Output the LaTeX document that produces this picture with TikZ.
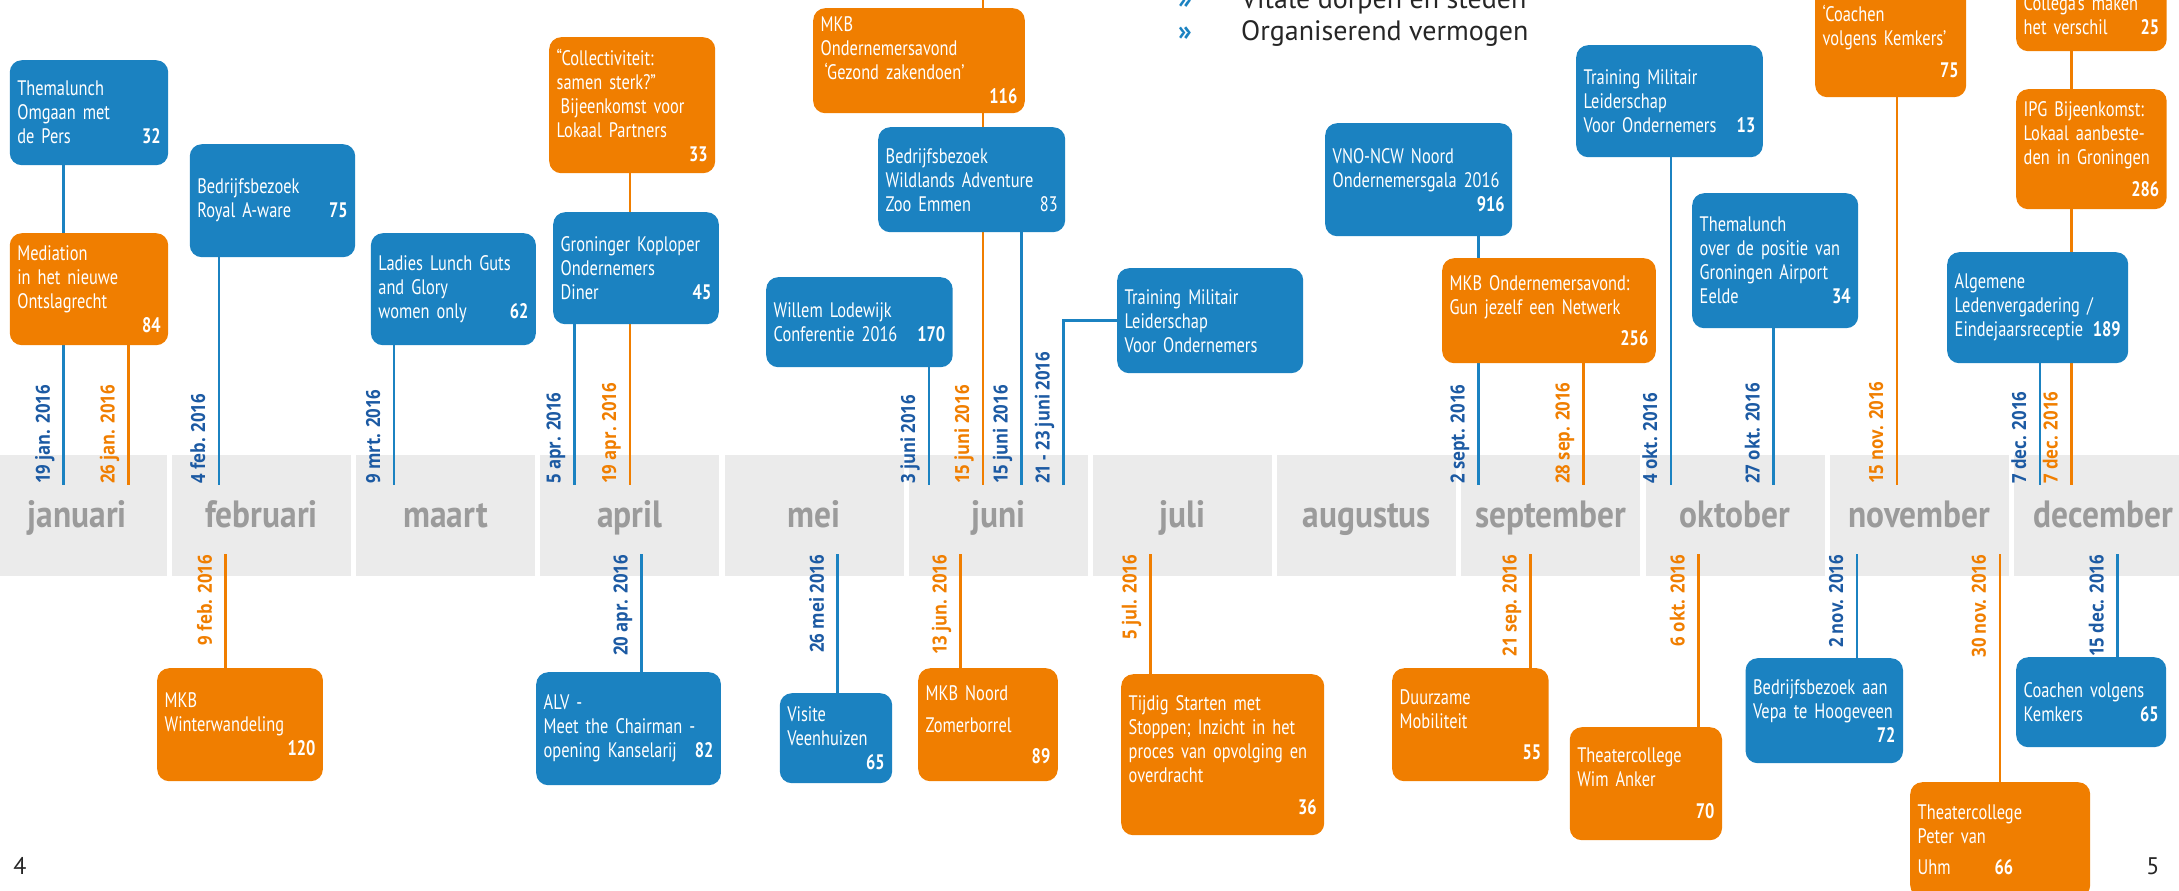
\documentclass[tikz,border=0pt]{standalone}
\usepackage{fontspec}
\setmainfont{PT Sans}
\newfontfamily\boxfont{PT Sans}[FakeStretch=0.78]
\newfontfamily\monthfont{PT Sans}[FakeStretch=0.88]
\newfontfamily\datefont{Open Sans}[FakeStretch=0.86]

\definecolor{evblue}{RGB}{27,130,193}
\definecolor{evorange}{RGB}{240,126,0}
\definecolor{datblue}{RGB}{28,90,163}
\definecolor{bandgray}{RGB}{235,235,235}
\definecolor{monthgray}{RGB}{155,155,155}

\pgfdeclarelayer{band}
\pgfdeclarelayer{lines}
\pgfsetlayers{band,lines,main}

\tikzset{
  evbox/.style={anchor=north west, rounded corners=12pt, inner xsep=7.5pt, inner ysep=0pt,
    text=white, align=left, font=\boxfont\fontsize{21}{24}\selectfont},
  bluebox/.style={evbox, fill=evblue},
  orangebox/.style={evbox, fill=evorange},
  monthbox/.style={anchor=north west, fill=bandgray, minimum width=179pt, minimum height=121pt,
    inner sep=0pt, text=monthgray, text height=30pt, text depth=6pt,
    font=\monthfont\bfseries\fontsize{38}{38}\selectfont},
  blueline/.style={evblue, line width=2.8pt},
  orangeline/.style={evorange, line width=2.8pt},
  datum/.style={rotate=90, inner sep=0pt, font=\datefont\bfseries\fontsize{19.5}{19.5}\selectfont},
  updatum/.style={datum, anchor=base west},
  downdatum/.style={datum, anchor=base east},
  toptext/.style={anchor=base west, inner sep=0pt, text=black!85, font=\fontsize{28}{28}\selectfont},
  bullet/.style={anchor=base, inner sep=0pt, text=evblue, font=\bfseries\fontsize{28}{28}\selectfont},
  pagenum/.style={anchor=base, inner sep=0pt, text=black!85, font=\fontsize{24}{24}\selectfont}
}

\begin{document}
\begin{tikzpicture}[x=1pt, y=-1pt]
\useasboundingbox (0,0) rectangle (2179,891);

% Months
\begin{pgfonlayer}{band}
\node[monthbox] (jan) at (-12.4,455) {januari};
\node[monthbox] (feb) at (171.8,455) {februari};
\node[monthbox] (mrt) at (356,455) {maart};
\node[monthbox] (apr) at (540.2,455) {april};
\node[monthbox] (mei) at (724.4,455) {mei};
\node[monthbox] (jun) at (908.6,455) {juni};
\node[monthbox] (jul) at (1092.8,455) {juli};
\node[monthbox] (aug) at (1277,455) {augustus};
\node[monthbox] (sep) at (1461.2,455) {september};
\node[monthbox] (okt) at (1645.4,455) {oktober};
\node[monthbox] (nov) at (1829.6,455) {november};
\node[monthbox] (dec) at (2013.8,455) {december};
\end{pgfonlayer}

% Events above the months
\node[bluebox, text width=143.4pt, minimum height=105pt] (tlpers) at (9.6,60) {Themalunch\\Omgaan met\\de Pers\hfill\textbf{32}};
\node[orangebox, text width=143.4pt, minimum height=112pt] (mediation) at (9.6,233) {Mediation\\in het nieuwe\\Ontslagrecht\\\hfill\textbf{84}};
\node[bluebox, text width=150.4pt, minimum height=113pt] (royal) at (189.6,144) {Bedrijfsbezoek\\Royal A-ware\hfill\textbf{75}};
\node[bluebox, text width=150pt, minimum height=112pt] (ladies) at (370.7,233) {Ladies Lunch Guts\\and Glory\\women only\hfill\textbf{62}};
\node[orangebox, text width=151pt, minimum height=136pt] (collect) at (549,37) {“Collectiviteit:\\samen sterk?”\\\hspace*{4pt}Bijeenkomst voor\\Lokaal Partners\\\hfill\textbf{33}};
\node[bluebox, text width=150.6pt, minimum height=112pt] (koploper) at (553,212) {Groninger Koploper\\Ondernemers\\Diner\hfill\textbf{45}};
\node[orangebox, text width=196.6pt, minimum height=105pt] (mkbgezond) at (813,8) {MKB\\Ondernemersavond\\\hspace*{4pt}‘Gezond zakendoen’\\\hfill\textbf{116}};
\node[bluebox, text width=172pt, minimum height=105pt] (wildlands) at (878,127) {Bedrijfsbezoek\\Wildlands Adventure\\Zoo Emmen\hfill 83};
\node[bluebox, text width=171.5pt, minimum height=90pt] (willem) at (766,277) {Willem Lodewijk\\Conferentie 2016\hfill\textbf{170}};
\node[bluebox, text width=171pt, minimum height=105pt] (militair) at (1117,268) {Training Militair\\Leiderschap\\Voor Ondernemers};
\node[bluebox, text width=172pt, minimum height=113pt] (vno) at (1325,123) {VNO-NCW Noord\\Ondernemersgala 2016\\\hfill\textbf{916}};
\node[orangebox, text width=198.6pt, minimum height=105pt] (mkbgun) at (1442,258) {MKB Ondernemersavond:\\Gun jezelf een Netwerk\\[7pt]\hfill\textbf{256}};
\node[bluebox, text width=171.6pt, minimum height=112pt] (training) at (1576,45) {Training Militair\\Leiderschap\\Voor Ondernemers\hfill\textbf{13}};
\node[bluebox, text width=151pt, minimum height=135pt] (positie) at (1692,193) {Themalunch\\over de positie van\\Groningen Airport\\Eelde\hfill\textbf{34}};
\node[orangebox, text width=136pt, minimum height=112pt] (coachen) at (1815,-15) {‘Coachen\\volgens Kemkers’\\[8pt]\hfill\textbf{75}};
\node[orangebox, text width=135.5pt, minimum height=72pt] (collega) at (2016,-21) {Collega’s maken\\het verschil\hfill\textbf{25}};
\node[orangebox, text width=135.5pt, minimum height=120pt] (ipg) at (2016,89) {IPG Bijeenkomst:\\Lokaal aanbeste-\\den in Groningen\\[8pt]\hfill\textbf{286}};
\node[bluebox, text width=166pt, minimum height=111pt] (algemene) at (1947,252) {Algemene\\Ledenvergadering /\\Eindejaarsreceptie\hfill\textbf{189}};

% Events below the months
\node[orangebox, text width=150.7pt, minimum height=113pt] (winter) at (157,668) {MKB\\Winterwandeling\\\hfill\textbf{120}};
\node[bluebox, text width=169.7pt, minimum height=113pt] (alv) at (536,672) {ALV -\\Meet the Chairman -\\opening Kanselarij\hfill\textbf{82}};
\node[bluebox, text width=97.4pt, minimum height=90pt] (visite) at (779.6,693) {Visite\\Veenhuizen\\\hfill\textbf{65}};
\node[orangebox, text width=124.6pt, minimum height=113pt] (noord) at (918,668) {MKB Noord\\[8pt]Zomerborrel\\[7pt]\hfill\textbf{89}};
\node[orangebox, text width=188pt, minimum height=161pt] (tijdig) at (1121,674) {Tijdig Starten met\\Stoppen; Inzicht in het\\proces van opvolging en\\overdracht\\[8pt]\hfill\textbf{36}};
\node[orangebox, text width=141.4pt, minimum height=113pt] (duurzaam) at (1392,668) {Duurzame\\Mobiliteit\\[7pt]\hfill\textbf{55}};
\node[orangebox, text width=137.2pt, minimum height=113pt] (wim) at (1569.6,727) {Theatercollege\\Wim Anker\\[8pt]\hfill\textbf{70}};
\node[bluebox, text width=142.4pt, minimum height=105pt] (vepa) at (1745.4,658) {Bedrijfsbezoek aan\\Vepa te Hoogeveen\\\hfill\textbf{72}};
\node[orangebox, text width=165pt, minimum height=115pt] (uhm) at (1910,782) {Theatercollege\\Peter van\\[7pt]Uhm\hspace{44pt}\textbf{66}};
\node[bluebox, text width=135pt, minimum height=90pt] (kemkers) at (2016,657) {Coachen volgens\\Kemkers\hfill\textbf{65}};

% Connectors and dates
\begin{pgfonlayer}{lines}
\coordinate (d19jan) at (63.8,485);
\coordinate (d26jan) at (128.6,485);
\coordinate (d4feb) at (219,485);
\coordinate (d9mrt) at (394,485);
\coordinate (d5apr) at (574.6,485);
\coordinate (d19apr) at (630,485);
\coordinate (d3jun) at (929,485);
\coordinate (top15) at (983,-10);
\coordinate (d15jun) at (983,485);
\coordinate (d15junb) at (1021.7,485);
\coordinate (d21jun) at (1063.6,485);
\coordinate (d2sep) at (1478.6,485);
\coordinate (d28sep) at (1583.7,485);
\coordinate (d4okt) at (1671,485);
\coordinate (d27okt) at (1773.7,485);
\coordinate (d15nov) at (1897,485);
\coordinate (d7dec) at (2040,485);
\coordinate (d7deco) at (2071.5,485);

\draw[blueline] (tlpers.south -| d19jan) -- (d19jan);
\draw[orangeline] (mediation.south -| d26jan) -- (d26jan);
\draw[blueline] (royal.south -| d4feb) -- (d4feb);
\draw[blueline] (ladies.south -| d9mrt) -- (d9mrt);
\draw[blueline] (koploper.south -| d5apr) -- (d5apr);
\draw[orangeline] (collect.south -| d19apr) -- (d19apr);
\draw[blueline] (willem.south -| d3jun) -- (d3jun);
\draw[orangeline] (top15) -- (d15jun);
\draw[blueline] (wildlands.south -| d15junb) -- (d15junb);
\draw[blueline] (d21jun) |- (militair.west);
\draw[blueline] (vno.south -| d2sep) -- (d2sep);
\draw[orangeline] (mkbgun.south -| d28sep) -- (d28sep);
\draw[blueline] (training.south -| d4okt) -- (d4okt);
\draw[blueline] (positie.south -| d27okt) -- (d27okt);
\draw[orangeline] (coachen.south -| d15nov) -- (d15nov);
\draw[blueline] (algemene.south -| d7dec) -- (d7dec);
\draw[orangeline] (collega.south -| d7deco) -- (d7deco);

\node[updatum, text=datblue] (l19jan) at (49.8,484) {19 jan. 2016};
\node[updatum, text=evorange] (l26jan) at (114.6,484) {26 jan. 2016};
\node[updatum, text=datblue] (l4feb) at (205,484) {4 feb. 2016};
\node[updatum, text=datblue] (l9mrt) at (380,484) {9 mrt. 2016};
\node[updatum, text=datblue] (l5apr) at (560.6,484) {5 apr. 2016};
\node[updatum, text=evorange] (l19apr) at (616,484) {19 apr. 2016};
\node[updatum, text=datblue] (l3jun) at (915,484) {3 juni 2016};
\node[updatum, text=evorange] (l15jun) at (969,484) {15 juni 2016};
\node[updatum, text=datblue] (l15junb) at (1007.7,484) {15 juni 2016};
\node[updatum, text=datblue] (l21jun) at (1049.6,484) {21 - 23 juni 2016};
\node[updatum, text=datblue] (l2sep) at (1464.6,484) {2 sept. 2016};
\node[updatum, text=evorange] (l28sep) at (1569.7,484) {28 sep. 2016};
\node[updatum, text=datblue] (l4okt) at (1657,484) {4 okt. 2016};
\node[updatum, text=datblue] (l27okt) at (1759.7,484) {27 okt. 2016};
\node[updatum, text=evorange] (l15nov) at (1883,484) {15 nov. 2016};
\node[updatum, text=datblue] (l7dec) at (2026,484) {7 dec. 2016};
\node[updatum, text=evorange] (l7deco) at (2057.5,484) {7 dec. 2016};

\coordinate (e9feb) at (225.8,554);
\coordinate (e20apr) at (641.6,554);
\coordinate (e26mei) at (837.8,554);
\coordinate (e13jun) at (960.7,554);
\coordinate (e5jul) at (1150.7,554);
\coordinate (e21sep) at (1530.5,554);
\coordinate (e6okt) at (1698.7,554);
\coordinate (e2nov) at (1857,554);
\coordinate (e30nov) at (1999.9,554);
\coordinate (e15dec) at (2117.7,554);

\draw[orangeline] (e9feb) -- (e9feb |- winter.north);
\draw[blueline] (e20apr) -- (e20apr |- alv.north);
\draw[blueline] (e26mei) -- (e26mei |- visite.north);
\draw[orangeline] (e13jun) -- (e13jun |- noord.north);
\draw[orangeline] (e5jul) -- (e5jul |- tijdig.north);
\draw[orangeline] (e21sep) -- (e21sep |- duurzaam.north);
\draw[orangeline] (e6okt) -- (e6okt |- wim.north);
\draw[blueline] (e2nov) -- (e2nov |- vepa.north);
\draw[orangeline] (e30nov) -- (e30nov |- uhm.north);
\draw[blueline] (e15dec) -- (e15dec |- kemkers.north);

\node[downdatum, text=evorange] (l9feb) at (211.8,555) {9 feb. 2016};
\node[downdatum, text=datblue] (l20apr) at (627.6,555) {20 apr. 2016};
\node[downdatum, text=datblue] (l26mei) at (823.8,555) {26 mei 2016};
\node[downdatum, text=evorange] (l13jun) at (946.7,555) {13 jun. 2016};
\node[downdatum, text=evorange] (l5jul) at (1136.7,555) {5 jul. 2016};
\node[downdatum, text=evorange] (l21sep) at (1516.5,555) {21 sep. 2016};
\node[downdatum, text=evorange] (l6okt) at (1684.7,555) {6 okt. 2016};
\node[downdatum, text=datblue] (l2nov) at (1843,555) {2 nov. 2016};
\node[downdatum, text=evorange] (l30nov) at (1985.9,555) {30 nov. 2016};
\node[downdatum, text=datblue] (l15dec) at (2103.7,555) {15 dec. 2016};
\end{pgfonlayer}

% Heading list and page numbers
\node[bullet] (bul1) at (1185,9) {»};
\node[toptext] (vitale) at (1241,9) {Vitale dorpen en steden};
\node[bullet] (bul2) at (1185,41) {»};
\node[toptext] (organ) at (1241,41) {Organiserend vermogen};
\node[pagenum] (p4) at (20,874) {4};
\node[pagenum] (p5) at (2153,874) {5};

\end{tikzpicture}
\end{document}
